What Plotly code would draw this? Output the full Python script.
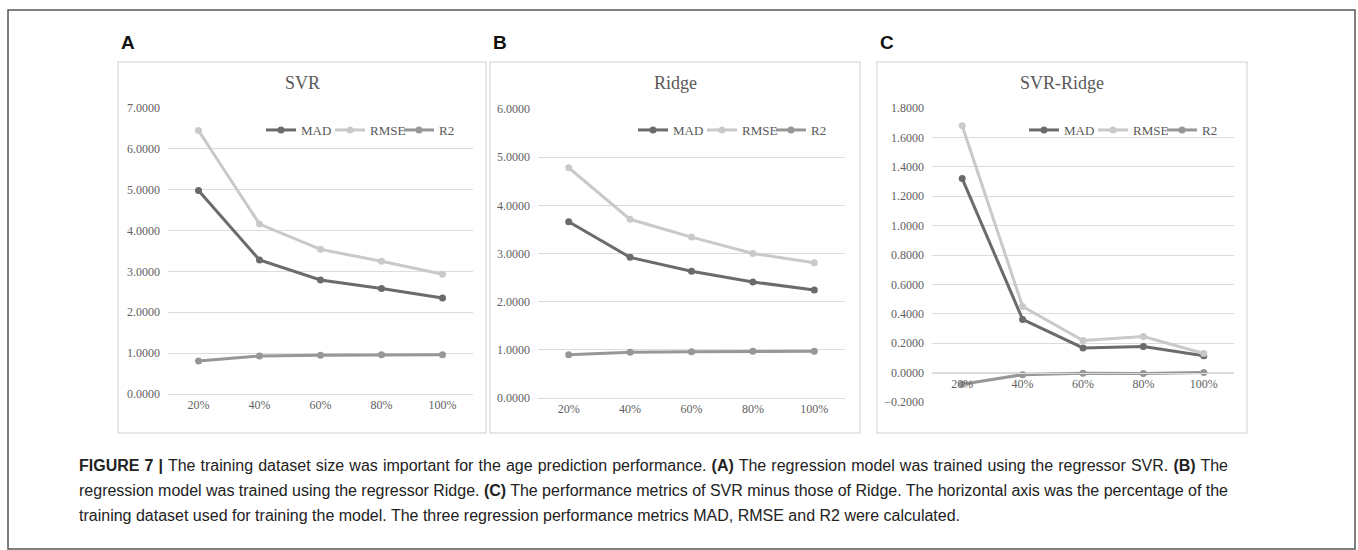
import plotly.graph_objects as go

W, H = 1358, 550

categories = ["20%", "40%", "60%", "80%", "100%"]

svr_mad = [4.98, 3.28, 2.79, 2.58, 2.35]
svr_rmse = [6.45, 4.16, 3.54, 3.25, 2.93]
svr_r2 = [0.81, 0.93, 0.95, 0.96, 0.96]

ridge_mad = [3.66, 2.92, 2.63, 2.41, 2.24]
ridge_rmse = [4.78, 3.71, 3.34, 3.00, 2.81]
ridge_r2 = [0.90, 0.95, 0.96, 0.97, 0.97]

diff_mad = [1.32, 0.362, 0.168, 0.177, 0.114]
diff_rmse = [1.68, 0.45, 0.218, 0.245, 0.13]
diff_r2 = [-0.08, -0.014, -0.005, -0.006, 0.0]

series_names = ["MAD", "RMSE", "R2"]
panel_titles = ["SVR", "Ridge", "SVR-Ridge"]
panel_letters = ["A", "B", "C"]

caption_lines = [
    "<b>FIGURE 7 |</b> The training dataset size was important for the age prediction performance. "
    "<b>(A)</b> The regression model was trained using the regressor SVR. <b>(B)</b> The",
    "regression model was trained using the regressor Ridge. <b>(C)</b> The performance metrics "
    "of SVR minus those of Ridge. The horizontal axis was the percentage of the",
    "training dataset used for training the model. The three regression performance metrics "
    "MAD, RMSE and R2 were calculated.",
]

colors = ["#6b6b6b", "#c9c9c9", "#979797"]


def px_x(x):
    return x / W


def px_y(y):
    return 1 - y / H


panels = [
    dict(data=[svr_mad, svr_rmse, svr_r2], box=(118, 62, 486, 433), plot=(168, 473, 108, 394),
         yrange=[0, 7], dtick=1, legend_x=261),
    dict(data=[ridge_mad, ridge_rmse, ridge_r2], box=(490, 62, 860, 433), plot=(538, 845, 109, 398),
         yrange=[0, 6], dtick=1, legend_x=633),
    dict(data=[diff_mad, diff_rmse, diff_r2], box=(877, 62, 1247, 433), plot=(932, 1234, 108, 402),
         yrange=[-0.2, 1.8], dtick=0.2, legend_x=1024),
]

fig = go.Figure()
serif = "Liberation Serif, Times New Roman, serif"
caption_font = "Liberation Sans, Arial, sans-serif"
tick_col = "#5f5f5f"
grid_col = "#dcdcdc"

shapes = []
annotations = []
layout = {}

for i, p in enumerate(panels):
    sfx = "" if i == 0 else str(i + 1)
    leg = "legend" + sfx
    for name, vals, col in zip(series_names, p["data"], colors):
        fig.add_trace(go.Scatter(
            x=categories, y=vals, name=name, mode="lines+markers",
            line=dict(color=col, width=3), marker=dict(color=col, size=7),
            xaxis="x" + sfx, yaxis="y" + sfx, legend=leg, hoverinfo="skip",
        ))
    x0, x1, ytop, ybot = p["plot"]
    ydom = [px_y(ybot), px_y(ytop)]
    xdom = [px_x(x0), px_x(x1)]
    yr = p["yrange"]
    xax = dict(domain=xdom, type="category", range=[-0.5, 4.5], showgrid=False,
               showline=True, linecolor=grid_col, linewidth=1, ticks="",
               tickfont=dict(family=serif, size=12, color=tick_col), zeroline=False,
               fixedrange=True, automargin=False)
    if yr[0] < 0:
        pos = ydom[0] + (0 - yr[0]) / (yr[1] - yr[0]) * (ydom[1] - ydom[0])
        xax.update(anchor="free", position=pos)
    else:
        xax.update(anchor="y" + sfx)
    yax = dict(domain=ydom, range=[yr[0] - 1e-4, yr[1] + 1e-4], dtick=p["dtick"], tick0=0,
               tickformat=".4f", showgrid=True, gridcolor=grid_col, gridwidth=1,
               zeroline=False, showline=False, ticks="",
               tickfont=dict(family=serif, size=12, color=tick_col),
               anchor="x" + sfx, fixedrange=True, ticklabelstandoff=7, automargin=False)
    layout["xaxis" + sfx] = xax
    layout["yaxis" + sfx] = yax
    layout[leg] = dict(orientation="h", x=px_x(p["legend_x"]), xanchor="left",
                       y=px_y(130), yanchor="middle", bgcolor="rgba(0,0,0,0)",
                       font=dict(family=serif, size=13, color="#595959"),
                       itemwidth=30, entrywidth=24, tracegroupgap=0,
                       itemclick=False, itemdoubleclick=False)
    bx0, by0, bx1, by1 = p["box"]
    shapes.append(dict(type="rect", xref="paper", yref="paper",
                       x0=px_x(bx0), x1=px_x(bx1), y0=px_y(by1), y1=px_y(by0),
                       line=dict(color="#e0e0e0", width=1.5), layer="below"))
    annotations.append(dict(text=panel_titles[i], xref="paper", yref="paper",
                            x=px_x((bx0 + bx1) / 2), y=px_y(83), xanchor="center", yanchor="middle",
                            showarrow=False, font=dict(family=serif, size=18, color="#595959")))
    annotations.append(dict(text="<b>" + panel_letters[i] + "</b>", xref="paper", yref="paper",
                            x=px_x(bx0 + 1), y=px_y(43), xanchor="left", yanchor="middle",
                            showarrow=False,
                            font=dict(family="Liberation Sans, Arial, sans-serif", size=19, color="#111")))

for k, line in enumerate(caption_lines):
    annotations.append(dict(text=line, xref="paper", yref="paper",
                            x=px_x(77), y=px_y(465 + 25 * k), xanchor="left", yanchor="middle",
                            showarrow=False, align="left",
                            font=dict(family=caption_font, size=16, color="#222")))

shapes.append(dict(type="rect", xref="paper", yref="paper",
                   x0=px_x(8), x1=px_x(1355), y0=px_y(549), y1=px_y(10),
                   line=dict(color="#555555", width=1.5)))

fig.update_layout(
    width=W, height=H, margin=dict(l=0, r=0, t=0, b=0, pad=0, autoexpand=False),
    paper_bgcolor="white", plot_bgcolor="white",
    shapes=shapes, annotations=annotations, hovermode=False,
    **layout,
)

justify_width = 1149   # justified caption lines span this many px
page_fix = (
    "var s=document.createElement('style');"
    "s.textContent='html,body{margin:0!important;padding:0!important;overflow:hidden!important}';"
    "document.head.appendChild(s);"
    "var JW=" + str(justify_width) + ";"
    "document.querySelectorAll('.annotation-text').forEach(function(t){"
    "var txt=t.textContent;"
    "var just=txt.indexOf('FIGURE 7')===0||txt.indexOf('regression model was trained using the regressor Ridge')===0;"
    "if(!just)return;"
    "var len=t.getComputedTextLength();var n=(txt.match(/ /g)||[]).length;"
    "var ws=Math.max(-1,(JW-len)/n);t.style.wordSpacing=ws+'px';});"
)
fig.write_html("out.html", config={"displayModeBar": False}, post_script=page_fix)
